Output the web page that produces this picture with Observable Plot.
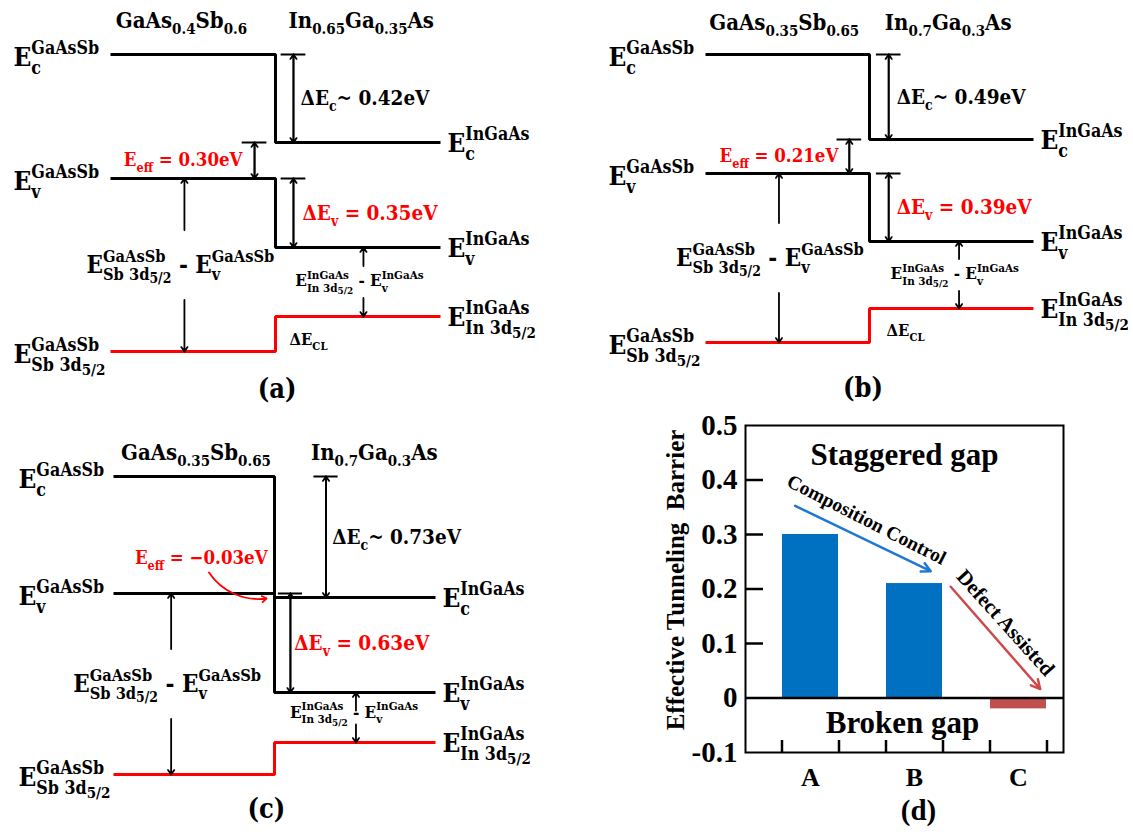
<!DOCTYPE html>
<html><head><meta charset="utf-8">
<script src="https://cdn.jsdelivr.net/npm/d3@7"></script>
<script src="https://cdn.jsdelivr.net/npm/@observablehq/plot@0.6"></script>
<style>
html,body{margin:0;padding:0;background:#fff;}
#root{position:relative;width:1133px;height:832px;overflow:hidden;background:#fff;}
.panel{position:absolute;}
.panel svg{overflow:visible;display:block;background:transparent;}
.band text{font-family:"DejaVu Serif Condensed","DejaVu Serif",serif;font-stretch:condensed;font-weight:bold;}
.bars text{font-family:"Liberation Serif","Times New Roman",serif;font-weight:bold;white-space:pre;}
</style></head><body><div id="root"></div>
<script>
// ---------- data: band diagrams (a), (b), (c) ----------
const panelTags = ["(a)", "(b)", "(c)"];
const gaAsSbAlloys = ["GaAs_{0.4}Sb_{0.6}", "GaAs_{0.35}Sb_{0.65}", "GaAs_{0.35}Sb_{0.65}"];
const inGaAsAlloys = ["In_{0.65}Ga_{0.35}As", "In_{0.7}Ga_{0.3}As", "In_{0.7}Ga_{0.3}As"];
// level heights on each schematic (arbitrary energy units)
const ecGaAsSb = [3.56, 3.56, 3.56];
const ecInGaAs = [2.68, 2.71, 2.35];
const evGaAsSb = [2.32, 2.37, 2.39];
const evInGaAs = [1.63, 1.69, 1.40];
const coreSb3d = [0.59, 0.68, 0.58];
const coreIn3d = [0.94, 1.02, 0.90];
const deltaEcText = ["ΔE_{c}~ 0.42eV", "ΔE_{c}~ 0.49eV", "ΔE_{c}~ 0.73eV"];
const deltaEvText = ["ΔE_{v} = 0.35eV", "ΔE_{v} = 0.39eV", "ΔE_{v} = 0.63eV"];
const eEffText = ["E_{eff} = 0.30eV", "E_{eff} = 0.21eV", "E_{eff} = −0.03eV"];
const leftLevelText = ["E_{c}^{GaAsSb}", "E_{v}^{GaAsSb}", "E_{Sb 3d_{5/2}}^{GaAsSb}"];
const rightLevelText = ["E_{c}^{InGaAs}", "E_{v}^{InGaAs}", "E_{In 3d_{5/2}}^{InGaAs}"];
const sbCoreGapText = "E_{Sb 3d_{5/2}}^{GaAsSb} - E_{v}^{GaAsSb}";
const inCoreGapText = "E_{In 3d_{5/2}}^{InGaAs} - E_{v}^{InGaAs}";
const coreShiftText = "ΔE_{CL}";

// ---------- data: bar chart (d) ----------
const samples = ["A", "B", "C"];
const barrier = [0.30, 0.21, -0.02];
const barrierTicks = [-0.1, 0, 0.1, 0.2, 0.3, 0.4, 0.5];
const yTitle = "Effective Tunneling  Barrier";

// ---------- layout (positions / sizes only) ----------
const bandLayout = [
  {left:0, top:0, w:566, h:410, x0:110, x1:440, dEcX:1.109, eeffX:0.873, dEvX:1.109, sbX:0.448, inX:1.533, inGap:0.16,
   dEcLabelX:1.152, eeffLabelX:0.80, dEvLabelX:1.164, sbLabelX:0.424, inLabelX:1.509, inLabelDy:-1, clLabelX:1.085, clDy:6,
   titleX:[0.43, 1.52], titleDy:-34, tagX:1.01, tagDy:-21, leftDx:-97},
  {left:566, top:0, w:567, h:410, x0:139, x1:467, dEcX:1.117, eeffX:0.877, dEvX:1.117, sbX:0.448, inX:1.546, inGap:0.16,
   dEcLabelX:1.166, eeffLabelX:0.81, dEvLabelX:1.166, sbLabelX:0.393, inLabelX:1.52, inLabelDy:-1, clLabelX:1.104, clDy:5,
   titleX:[0.48, 1.48], titleDy:-32, tagX:0.96, tagDy:-22, leftDx:-97},
  {left:0, top:410, w:566, h:422, x0:113, x1:435, dEcX:1.32, eeffX:null, dEvX:1.099, sbX:0.358, inX:1.506, inGap:0.07,
   dEcLabelX:1.358, eeffLabelX:0.957, eeffLabelY:2.74, dEvLabelX:1.123, sbLabelX:0.333, inLabelX:1.494, inLabelDy:-5, clLabelX:null,
   titleX:[0.512, 1.62], titleDy:-24, tagX:0.95, tagDy:-23, leftDx:-95,
   curve:{x1:0.593, y1:2.60, x2:0.951, y2:2.34}}
];
const RED = "#ff0000";

function stepPath(i, L, R) {
  return [{u:0, e:L[i]}, {u:1, e:L[i]}, {u:1, e:R[i]}, {u:2, e:R[i]}];
}

function bandPlot(i) {
  const L = bandLayout[i];
  const capHalf = 0.075;
  const caps = [{c:L.dEcX, e:ecGaAsSb[i]}, {c:L.dEvX, e:evGaAsSb[i]}];
  const dbl = [{x:L.dEcX, a:ecGaAsSb[i], b:ecInGaAs[i]}, {x:L.dEvX, a:evGaAsSb[i], b:evInGaAs[i]}];
  if (L.eeffX != null) {
    caps.push({c:L.eeffX, e:ecInGaAs[i]});
    dbl.push({x:L.eeffX, a:ecInGaAs[i], b:evGaAsSb[i]});
  }
  const sbMid = (evGaAsSb[i] + coreSb3d[i]) / 2;
  const inMid = (evInGaAs[i] + coreIn3d[i]) / 2;
  const single = [
    {x:L.sbX, a:sbMid + 0.35, b:evGaAsSb[i]},
    {x:L.sbX, a:sbMid - 0.35, b:coreSb3d[i]},
    {x:L.inX, a:inMid + L.inGap, b:evInGaAs[i]},
    {x:L.inX, a:inMid - L.inGap, b:coreIn3d[i]}
  ];
  const lv = [0, 1, 2];
  const leftY = [ecGaAsSb[i], evGaAsSb[i], coreSb3d[i]];
  const rightY = [ecInGaAs[i], evInGaAs[i], coreIn3d[i]];
  const arrowOpts = {stroke:"#000", strokeWidth:1.8, headLength:4.5, headAngle:70};
  const marks = [
    Plot.line(stepPath(i, ecGaAsSb, ecInGaAs), {x:"u", y:"e", stroke:"#000", strokeWidth:3, strokeLinejoin:"miter", strokeLinecap:"butt"}),
    Plot.line(stepPath(i, evGaAsSb, evInGaAs), {x:"u", y:"e", stroke:"#000", strokeWidth:3, strokeLinejoin:"miter", strokeLinecap:"butt"}),
    Plot.line(stepPath(i, coreSb3d, coreIn3d), {x:"u", y:"e", stroke:RED, strokeWidth:3, strokeLinejoin:"miter", strokeLinecap:"butt"}),
    Plot.ruleY(caps, {y:"e", x1:d => d.c - capHalf, x2:d => d.c + capHalf, stroke:"#000", strokeWidth:2}),
    Plot.arrow(dbl, {x1:"x", x2:"x", y1:"a", y2:"b", ...arrowOpts}),
    Plot.arrow(dbl, {x1:"x", x2:"x", y1:"b", y2:"a", ...arrowOpts}),
    Plot.arrow(single, {x1:"x", x2:"x", y1:"a", y2:"b", ...arrowOpts}),
    Plot.text(lv, {x:() => 0, y:k => leftY[k], text:k => leftLevelText[k], textAnchor:"start", dx:L.leftDx, dy:3, fontSize:26, fill:"#000"}),
    Plot.text(lv, {x:() => 2, y:k => rightY[k], text:k => rightLevelText[k], textAnchor:"start", dx:7, dy:1, fontSize:26, fill:"#000"}),
    Plot.text([0, 1], {x:k => L.titleX[k], y:() => ecGaAsSb[i], dy:L.titleDy, text:k => [gaAsSbAlloys[i], inGaAsAlloys[i]][k], fontSize:22, fill:"#000"}),
    Plot.text([deltaEcText[i]], {x:() => L.dEcLabelX, y:() => (ecGaAsSb[i] + ecInGaAs[i]) / 2, textAnchor:"start", fontSize:20.5, fill:"#000"}),
    Plot.text([deltaEvText[i]], {x:() => L.dEvLabelX, y:() => (evGaAsSb[i] + evInGaAs[i]) / 2, textAnchor:"start", fontSize:20.5, fill:RED}),
    Plot.text([eEffText[i]], {x:() => L.eeffLabelX, y:() => L.eeffLabelY ?? (ecInGaAs[i] + evGaAsSb[i]) / 2, textAnchor:"end", fontSize:18.5, fill:RED}),
    Plot.text([sbCoreGapText], {x:() => L.sbLabelX, y:() => sbMid, fontSize:24, fill:"#000"}),
    Plot.text([inCoreGapText], {x:() => L.inLabelX, y:() => inMid, dy:L.inLabelDy, fontSize:17, fill:"#000"}),
    Plot.text([panelTags[i]], {x:() => L.tagX, frameAnchor:"bottom", lineAnchor:"middle", dy:L.tagDy, fontSize:27, fill:"#000"})
  ];
  if (L.clLabelX != null) {
    marks.push(Plot.text([coreShiftText], {x:() => L.clLabelX, y:() => (coreSb3d[i] + coreIn3d[i]) / 2, dy:L.clDy, textAnchor:"start", fontSize:16.5, fill:"#000"}));
  }
  if (L.curve) {
    marks.push(Plot.arrow([L.curve], {x1:"x1", y1:"y1", x2:"x2", y2:"y2", bend:-32, stroke:RED, strokeWidth:1.8, headLength:4.5, headAngle:70}));
  }
  return Plot.plot({
    width:L.w, height:L.h, margin:0,
    x:{domain:[0, 2], range:[L.x0, L.x1], axis:null},
    y:{domain:[0, L.h / 100], range:[L.h, 0], axis:null},
    marks
  });
}

// ---------- bar chart (d) ----------
const D = {left:630, top:410, w:503, h:422, mL:115, mR:70, mT:15, mB:80, pi:0.457, po:0.243, align:0.69};
function barPlot() {
  const frameW = D.w - D.mL - D.mR;
  const frameH = D.h - D.mT - D.mB;
  const step = frameW / (samples.length - D.pi + 2 * D.po);
  const bw = step * (1 - D.pi);
  const barData = samples.map((s, k) => ({s, v:barrier[k]}));
  const BLUE = "#0070c0", BRICK = "#c0504d";
  return Plot.plot({
    width:D.w, height:D.h, marginLeft:D.mL, marginRight:D.mR, marginTop:D.mT, marginBottom:D.mB,
    x:{type:"band", domain:samples, paddingInner:D.pi, paddingOuter:D.po, align:D.align},
    y:{domain:[-0.1, 0.5]},
    marks:[
      Plot.barY(barData, {x:"s", y1:() => 0, y2:"v", fill:d => d.v < 0 ? BRICK : BLUE}),
      Plot.ruleY([0], {stroke:"#000", strokeWidth:2.5}),
      Plot.ruleY(barrierTicks.filter(t => t > -0.1 && t < 0.5 && t !== 0), {y:d => d, insetRight:frameW - 18, stroke:"#000", strokeWidth:2.5}),
      Plot.ruleX(samples, {x:d => d, dx:-bw / 2, insetTop:frameH - 12, stroke:"#000", strokeWidth:2.5}),
      Plot.ruleX(samples, {x:d => d, dx:bw / 2, insetTop:frameH - 12, stroke:"#000", strokeWidth:2.5}),
      Plot.frame({stroke:"#000", strokeWidth:2}),
      Plot.axisY(barrierTicks, {tickSize:0, tickPadding:8, fontSize:29, tickFormat:d => String(d), label:null, fill:"#000"}),
      Plot.axisX({tickSize:0, tickPadding:15, fontSize:26, label:null, fill:"#000"}),
      Plot.arrow([{a:"A", b:"B"}], {x1:"a", x2:"b", y1:() => 0.339, y2:() => 0.247, insetStart:-17, insetEnd:-18, stroke:"#1f78d2", strokeWidth:2.5, headLength:6, headAngle:55}),
      Plot.arrow([{a:"B", b:"C"}], {x1:"a", x2:"b", y1:() => 0.28, y2:() => 0.062, insetStart:55, insetEnd:-33, stroke:"#cc4a4a", strokeWidth:2.5, headLength:6, headAngle:55}),
      Plot.text(["Staggered gap"], {frameAnchor:"top", lineAnchor:"middle", dy:30, fontSize:31, fill:"#000"}),
      Plot.text(["Broken gap"], {frameAnchor:"bottom", lineAnchor:"middle", dy:-29, dx:-2, fontSize:31, fill:"#000"}),
      Plot.text(["Composition Control"], {x:() => "B", y:() => 0.327, dx:-48, rotate:27, fontSize:19.5, fill:"#000"}),
      Plot.text(["Defect Assisted"], {x:() => "C", y:() => 0.138, dx:-13, rotate:48, fontSize:21, fill:"#000"}),
      Plot.text([yTitle], {frameAnchor:"left", textAnchor:"middle", lineAnchor:"middle", rotate:-90, dx:-70, dy:-9, fontSize:25, fill:"#000"}),
      Plot.text(["(d)"], {frameAnchor:"bottom", lineAnchor:"middle", dx:14, dy:58, fontSize:29, fill:"#000"})
    ]
  });
}

// ---------- sub/superscript rendering of text labels ----------
function parseMarkup(s) {
  let i = 0;
  function seq(inBrace) {
    const out = []; let buf = "";
    while (i < s.length) {
      const ch = s[i];
      if (ch === "}" && inBrace) { i++; break; }
      if ((ch === "_" || ch === "^") && s[i + 1] === "{") {
        if (buf) { out.push({type:"text", text:buf}); buf = ""; }
        i += 2;
        out.push({type:ch === "_" ? "sub" : "sup", children:seq(true)});
        continue;
      }
      buf += ch; i++;
    }
    if (buf) out.push({type:"text", text:buf});
    return out;
  }
  return seq(false);
}
function richify(el) {
  const src = el.textContent;
  if (!/[_^]\{/.test(src)) return;
  const tree = parseMarkup(src);
  const F = parseFloat(getComputedStyle(el).fontSize);
  const NS = "http://www.w3.org/2000/svg";
  el.textContent = "";
  let cur = 0, pendingDx = 0;
  function emit(text, shift, size) {
    const t = document.createElementNS(NS, "tspan");
    t.textContent = text;
    t.setAttribute("font-size", size.toFixed(2));
    const d = shift - cur;
    if (Math.abs(d) > 1e-6) t.setAttribute("dy", d.toFixed(2));
    cur = shift;
    el.appendChild(t);
    const w = t.getComputedTextLength();
    if (pendingDx) { t.setAttribute("dx", pendingDx.toFixed(2)); pendingDx = 0; }
    return w;
  }
  function script(n, shift, size, depth) {
    const scale = depth === 0 ? 0.68 : 0.85;
    const sh = n.type === "sub" ? shift + size * (depth === 0 ? 0.3 : 0.22) : shift - size * 0.45;
    return nodes(n.children, sh, size * scale, depth + 1);
  }
  function nodes(list, shift, size, depth) {
    let w = 0;
    for (let k = 0; k < list.length; k++) {
      const n = list[k];
      if (n.type === "text") { w += emit(n.text, shift, size); continue; }
      const w1 = script(n, shift, size, depth);
      const m = list[k + 1];
      if (m && m.type !== "text" && m.type !== n.type) {
        pendingDx -= w1;
        const w2 = script(m, shift, size, depth);
        k++;
        const wm = Math.max(w1, w2);
        pendingDx += wm - w2;
        w += wm;
      } else w += w1;
    }
    return w;
  }
  nodes(tree, 0, F, 0);
}

// ---------- assemble ----------
const root = document.getElementById("root");
function place(svg, L, cls) {
  const div = document.createElement("div");
  div.className = "panel " + cls;
  div.style.left = L.left + "px";
  div.style.top = L.top + "px";
  div.appendChild(svg);
  root.appendChild(div);
}
bandLayout.forEach((L, i) => place(bandPlot(i), L, "band"));
place(barPlot(), D, "bars");
document.querySelectorAll("#root text").forEach(richify);
</script></body></html>
